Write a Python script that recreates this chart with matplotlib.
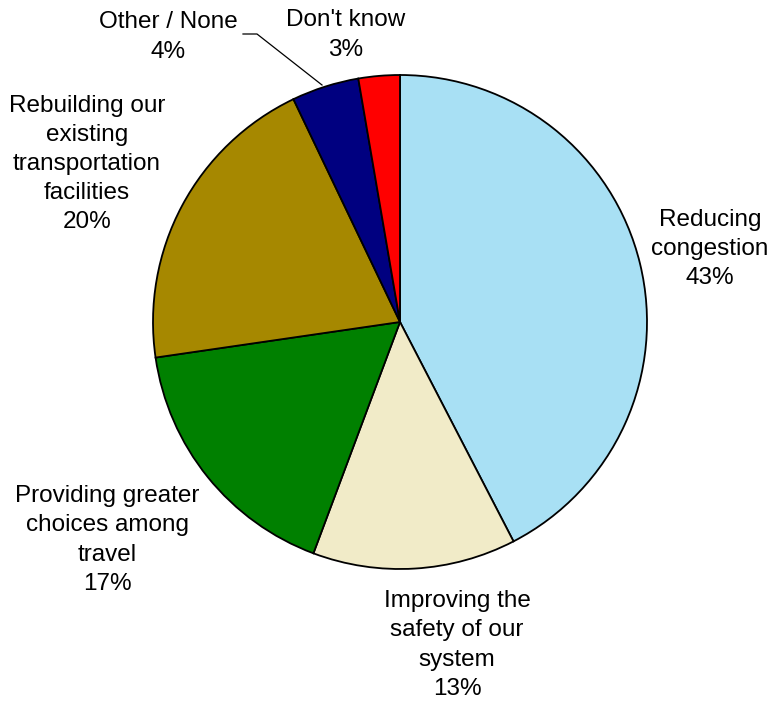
import matplotlib
matplotlib.use("Agg")
import matplotlib.pyplot as plt

categories = ["Reducing\ncongestion", "Improving the\nsafety of our\nsystem",
              "Providing greater\nchoices among\ntravel",
              "Rebuilding our\nexisting\ntransportation\nfacilities",
              "Other / None", "Don't know"]
# slice shares
values = [42.4, 13.3, 17.0, 20.2, 4.4, 2.7]
# percentages as printed on the chart
pct_labels = ["43%", "13%", "17%", "20%", "4%", "3%"]
colors = ["#A8E0F4", "#F1EBC8", "#008000", "#A68800", "#000080", "#FF0000"]

W, H = 773, 702
fig = plt.figure(figsize=(W / 100, H / 100), dpi=100)
ax = fig.add_axes([0, 0, 1, 1])

cx, cy, r = 400, H - 322, 247
ax.pie(values, colors=colors, startangle=90, counterclock=False,
       center=(cx, cy), radius=r, frame=True,
       wedgeprops=dict(edgecolor="black", linewidth=1.3))
ax.set_xlim(0, W)
ax.set_ylim(0, H)
ax.set_aspect("equal")
ax.axis("off")

label_pos = [(710, 249), (457, 645), (107, 540), (87, 164), (168, 37), (346, 35)]
for cat, p, (x, y) in zip(categories, pct_labels, label_pos):
    ax.text(x, H - y, f"{cat}\n{p}", ha="center", va="center",
            fontsize=17.5, family="Liberation Sans", linespacing=1.42)

ax.plot([243, 257, 322], [H - 34, H - 34, H - 85], color="black", linewidth=0.9)

fig.savefig("out.png", dpi=100)
